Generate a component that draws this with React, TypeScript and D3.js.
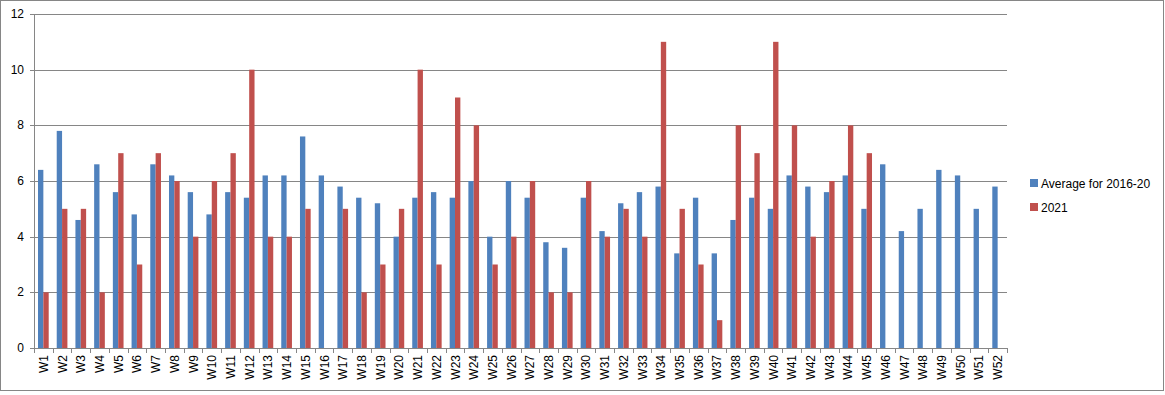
import * as d3 from "d3";
import React, { useEffect, useRef } from "react";

const weeks: string[] = Array.from({ length: 52 }, (_, i) => `W${i + 1}`);

// Average for 2016-20
const average: number[] = [
  6.4, 7.8, 4.6, 6.6, 5.6, 4.8, 6.6, 6.2, 5.6, 4.8, 5.6, 5.4, 6.2, 6.2, 7.6,
  6.2, 5.8, 5.4, 5.2, 4, 5.4, 5.6, 5.4, 6, 4, 6, 5.4, 3.8, 3.6, 5.4, 4.2, 5.2,
  5.6, 5.8, 3.4, 5.4, 3.4, 4.6, 5.4, 5, 6.2, 5.8, 5.6, 6.2, 5, 6.6, 4.2, 5,
  6.4, 6.2, 5, 5.8,
];

// 2021 (no data after W45, none reported in W16)
const year2021: (number | null)[] = [
  2, 5, 5, 2, 7, 3, 7, 6, 4, 6, 7, 10, 4, 4, 5, null, 5, 2, 3, 5, 10, 3, 9, 8,
  3, 4, 6, 2, 2, 6, 4, 5, 4, 11, 5, 3, 1, 8, 7, 11, 8, 4, 6, 8, 7,
];

const seriesNames = ["Average for 2016-20", "2021"];
const colors = ["#4F81BD", "#C0504D"];
const yTicks = [0, 2, 4, 6, 8, 10, 12];

const App: React.FC = () => {
  const ref = useRef<SVGSVGElement>(null);

  useEffect(() => {
    const width = 1165;
    const left = 34;
    const right = 1007;
    const top = 14;
    const bottom = 348;
    const font = "'Liberation Sans', Arial, sans-serif";

    const svg = d3.select(ref.current);
    svg.selectAll("*").remove();

    svg
      .append("rect")
      .attr("x", 0.5)
      .attr("y", 0.5)
      .attr("width", width - 2)
      .attr("height", 390)
      .attr("fill", "#fff")
      .attr("stroke", "#868686");

    const x = d3.scaleBand<string>().domain(weeks).range([left, right]);
    const bw = x.bandwidth() / 3.5;
    const y = d3.scaleLinear().domain([0, 12]).range([bottom, top]);

    // gridlines
    svg
      .append("g")
      .selectAll("line")
      .data(yTicks.filter((t) => t > 0))
      .enter()
      .append("line")
      .attr("x1", left)
      .attr("x2", right)
      .attr("y1", (d) => Math.round(y(d)) + 0.5)
      .attr("y2", (d) => Math.round(y(d)) + 0.5)
      .attr("stroke", "#868686");

    // y labels + ticks
    const yg = svg.append("g");
    yg.selectAll("text")
      .data(yTicks)
      .enter()
      .append("text")
      .attr("x", 24)
      .attr("y", (d) => y(d) + 4)
      .attr("text-anchor", "end")
      .attr("font-family", font)
      .attr("font-size", 12)
      .attr("fill", "#000")
      .text((d) => d);
    yg.selectAll("line")
      .data(yTicks)
      .enter()
      .append("line")
      .attr("x1", left - 4)
      .attr("x2", left)
      .attr("y1", (d) => Math.round(y(d)) + 0.5)
      .attr("y2", (d) => Math.round(y(d)) + 0.5)
      .attr("stroke", "#868686");

    // bars
    const data = [average, year2021];
    data.forEach((vals, si) => {
      svg
        .append("g")
        .selectAll("rect")
        .data(vals.map((v, i) => ({ w: weeks[i], v })))
        .enter()
        .filter((d) => d.v !== null && d.v > 0)
        .append("rect")
        .attr("x", (d) => (x(d.w) as number) + bw * 0.75 + si * bw)
        .attr("width", bw)
        .attr("y", (d) => y(d.v as number))
        .attr("height", (d) => bottom - y(d.v as number))
        .attr("fill", colors[si]);
    });

    // axes lines
    svg
      .append("line")
      .attr("x1", left + 0.5)
      .attr("x2", left + 0.5)
      .attr("y1", top)
      .attr("y2", bottom)
      .attr("stroke", "#868686");
    svg
      .append("line")
      .attr("x1", left)
      .attr("x2", right)
      .attr("y1", bottom + 0.5)
      .attr("y2", bottom + 0.5)
      .attr("stroke", "#868686");

    // x ticks between categories
    const boundaries = weeks.map((w) => x(w) as number).concat([right]);
    svg
      .append("g")
      .selectAll("line")
      .data(boundaries)
      .enter()
      .append("line")
      .attr("x1", (d) => Math.round(d) + 0.5)
      .attr("x2", (d) => Math.round(d) + 0.5)
      .attr("y1", bottom)
      .attr("y2", bottom + 5)
      .attr("stroke", "#868686");

    // x labels rotated
    svg
      .append("g")
      .selectAll("text")
      .data(weeks)
      .enter()
      .append("text")
      .attr(
        "transform",
        (d) =>
          `translate(${(x(d) as number) + x.bandwidth() / 2 + 4.5},${bottom + 7}) rotate(-90)`,
      )
      .attr("text-anchor", "end")
      .attr("font-family", font)
      .attr("font-size", 12)
      .attr("fill", "#000")
      .text((d) => d);

    // legend
    const lg = svg.append("g").attr("transform", "translate(1030,179)");
    seriesNames.forEach((name, i) => {
      lg.append("rect")
        .attr("x", 0)
        .attr("y", i * 24)
        .attr("width", 8)
        .attr("height", 8)
        .attr("fill", colors[i]);
      lg.append("text")
        .attr("x", 11)
        .attr("y", i * 24 + 8.5)
        .attr("font-family", font)
        .attr("font-size", 12)
        .attr("fill", "#000")
        .text(name);
    });
  }, []);

  return (
    <svg
      ref={ref}
      width={1165}
      height={395}
      style={{ position: "absolute", left: 0, top: 0 }}
    ></svg>
  );
};

export default App;
